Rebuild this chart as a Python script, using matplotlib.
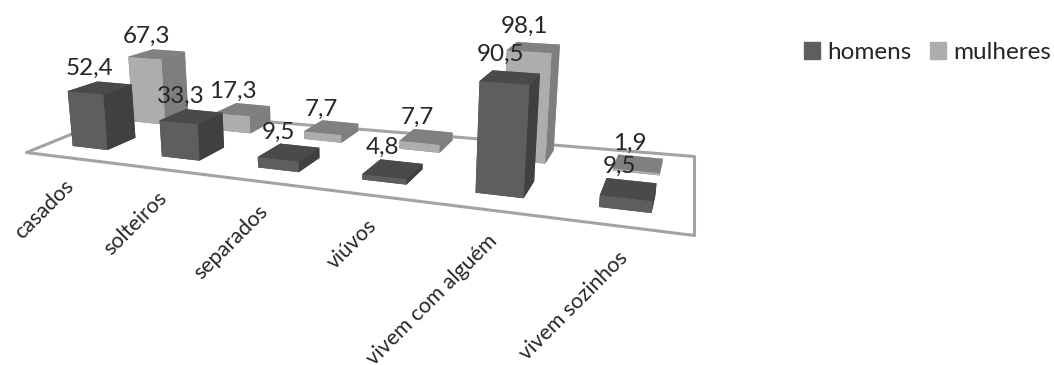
import numpy as np
import matplotlib
matplotlib.use("Agg")
import matplotlib.pyplot as plt
from matplotlib.patches import Patch
from mpl_toolkits.mplot3d import proj3d
from mpl_toolkits.mplot3d.art3d import Poly3DCollection

#Chart data
categories = ["casados", "solteiros", "separados", "viúvos", "vivem com alguém", "vivem sozinhos"]
homens = [52.4, 33.3, 9.5, 4.8, 90.5, 9.5]
mulheres = [67.3, 17.3, 7.7, 7.7, 98.1, 1.9]
series_names = ["homens", "mulheres"]

W, H = 1054, 365
plt.rcParams["font.family"] = ["Lato", "DejaVu Sans"]
TEXT = "#262626"

#Camera: where four floor points land on screen, and the vanishing point of the verticals
anchor_world = [(0.5, 0.2), (5.5, 0.2), (5.5, 0.68), (0.5, 0.68)]
anchor_screen = [(90, H - 148), (625, H - 210), (636, H - 173), (149, H - 123)]
vanish = (363, H - 3365)
px_per_unit = 1.2

#Outline of the floor on screen
floor_screen = [(26, H - 152), (694, H - 235), (694, H - 156), (129, H - 110)]


def camera_matrix():
    A, b = [], []
    for (x, y), (u, v) in zip(anchor_world, anchor_screen):
        A.append([x, y, 1, 0, 0, 0, -u * x, -u * y])
        A.append([0, 0, 0, x, y, 1, -v * x, -v * y])
        b += [u, v]
    a1, a2, a3, b1, b2, b3, c1, c2 = np.linalg.solve(np.array(A, float), np.array(b, float))
    #Scale of the vertical axis, taken at the tall front bar
    w = c1 * 4.5 + c2 * 0.2 + 1
    v = (b1 * 4.5 + b2 * 0.2 + b3) / w
    k = px_per_unit * w / (vanish[1] - v)
    return np.array([
        [a1, a2, k * vanish[0], a3],
        [b1, b2, k * vanish[1], b3],
        [-0.01, 1, -0.05, 0],
        [c1, c2, k, 1],
    ])


fig = plt.figure(figsize=(W / 100, H / 100), dpi=100)
ax = fig.add_axes([0, 0, 1, 1], projection="3d", computed_zorder=False)
ax.set_axis_off()
ax.set_xticks([])
ax.set_yticks([])
ax.set_zticks([])
M = camera_matrix()
ax.get_proj = lambda: M
ax.apply_aspect = lambda position=None: None
ax.viewLim.intervalx = (0, W)
ax.viewLim.intervaly = (0, H)

#Floor outline, screen corners taken back to the floor plane
floor_h = np.linalg.inv(M[[0, 1, 3]][:, [0, 1, 3]])
floor_verts = []
for u, v in floor_screen:
    p = floor_h @ np.array([u, v, 1.0])
    floor_verts.append((p[0] / p[2], p[1] / p[2], 0))
ax.add_collection3d(Poly3DCollection([floor_verts], facecolors=(1, 1, 1, 0), edgecolors="#a3a3a3",
                                     linewidths=2.2, zorder=1))

xpos = np.arange(len(categories)) + 0.3
bar_w = 0.4


def faces(front, top, side):
    #bar3d order: bottom, top, front, back, left, right
    return [top, top, front, front, side, side] * len(categories)


ax.bar3d(xpos, 0.68, 0, bar_w, 0.22, mulheres, color=faces("#adadad", "#808080", "#7e7e7e"),
         shade=False, linewidth=0, zorder=2)
ax.bar3d(xpos, 0.2, 0, bar_w, 0.22, homens, color=faces("#5e5e5e", "#4a4a4a", "#404040"),
         shade=False, linewidth=0, zorder=3)


def value_label(x, y, value):
    tx, ty, _ = proj3d.proj_transform(x, y, value + 18, M)
    ax.text2D(tx - 5, ty, str(value).replace(".", ","), transform=ax.transData, fontsize=17.5,
              color=TEXT, ha="center", va="center", zorder=5)


#Value labels
for i in range(len(categories)):
    value_label(i + 0.45, 0.31, homens[i])
    value_label(i + 0.45, 0.79, mulheres[i])

#Category labels at 45 degrees, below the front edge
for i, name in enumerate(categories):
    tx, ty, _ = proj3d.proj_transform(i + 0.5, 0, -15, M)
    ax.text2D(tx, ty, name, transform=ax.transData, rotation=45, rotation_mode="anchor",
              ha="right", va="top", fontsize=15.5, color=TEXT, zorder=5)

handles = [Patch(color="#5e5e5e"), Patch(color="#adadad")]
fig.legend(handles, series_names, loc="upper right", bbox_to_anchor=(0.997, 0.885), ncol=2, frameon=False,
           fontsize=17.5, handlelength=0.65, handleheight=0.65, handletextpad=0.3, columnspacing=0.75,
           borderpad=0, borderaxespad=0, labelcolor=TEXT)

plt.savefig("out.png", dpi=100)
